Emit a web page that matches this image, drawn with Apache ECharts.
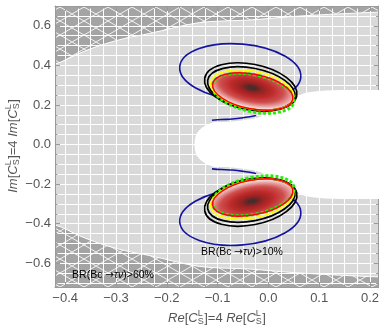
<!DOCTYPE html>
<html>
<head>
<meta charset="utf-8">
<script src="https://cdn.jsdelivr.net/npm/echarts@6/dist/echarts.min.js"></script>
<style>
html,body{margin:0;padding:0;background:#fff}
#main{width:382px;height:327px}
</style>
</head>
<body>
<div id="main"></div>
<script>
// axis ranges
var xRange = [-0.42, 0.217];
var yRange = [-0.72, 0.70];

// BR(Bc->tau nu) > 60% region, boundary
var hatchUpper = [[-0.42,0.407],[-0.371,0.462],[-0.332,0.500],[-0.283,0.536],[-0.234,0.561],[-0.136,0.616],[-0.038,0.629],[0.060,0.649],[0.217,0.669]];
var hatchLower = [[-0.42,-0.407],[-0.371,-0.462],[-0.332,-0.500],[-0.283,-0.536],[-0.234,-0.561],[-0.136,-0.616],[-0.038,-0.629],[0.060,-0.649],[0.217,-0.669]];

// excluded (white) region, upper and lower edge
var whiteUpper = [[-0.1455,0],[-0.1416,0.0531],[-0.1298,0.0859],[-0.1102,0.1112],[-0.0925,0.1137],[-0.0710,0.1162],[-0.0475,0.1238],[-0.0239,0.1339],[0.0016,0.1592],[0.0408,0.2097],[0.0663,0.2552],[0.0996,0.2703],[0.1584,0.2754],[0.217,0.2754]];
var whiteLower = [[-0.1455,0],[-0.1416,-0.0531],[-0.1298,-0.0859],[-0.1102,-0.1112],[-0.0925,-0.1137],[-0.0710,-0.1162],[-0.0475,-0.1238],[-0.0239,-0.1339],[0.0016,-0.1592],[0.0408,-0.2097],[0.0663,-0.2552],[0.0996,-0.2703],[0.1584,-0.2754],[0.217,-0.2754]];

// contours as ellipses: [centre x, centre y, half width (x units), half height (y units), tilt deg]
var blueRings   = [[-0.0553, 0.3663, 0.1196, 0.1415, 5], [-0.0553, -0.3663, 0.1196, 0.1415, -5]];
var blueArcUp   = [[-0.1110,0.1230],[-0.0925,0.1263],[-0.0710,0.1289],[-0.0475,0.1364],[-0.0239,0.1465]];
var blueArcDown = [[-0.1110,-0.1230],[-0.0925,-0.1263],[-0.0710,-0.1289],[-0.0475,-0.1364],[-0.0239,-0.1465]];
var blackOuter  = [[-0.0347, 0.2906, 0.0922, 0.1157, 11], [-0.0347, -0.2906, 0.0922, 0.1157, -11]];
var blackInner  = [[-0.0337, 0.2830, 0.0873, 0.1031, 11], [-0.0337, -0.2830, 0.0873, 0.1031, -11]];
var yellowRings = [[-0.0318, 0.2754, 0.0833, 0.0955, 11], [-0.0318, -0.2754, 0.0833, 0.0955, -11]];
var greenRings  = [[-0.0298, 0.2590, 0.0820, 0.0930, 12], [-0.0298, -0.2590, 0.0820, 0.0930, -12]];
var redRings    = [[-0.0308, 0.2678, 0.0804, 0.0874, 11], [-0.0308, -0.2678, 0.0804, 0.0874, -11]];

var fontFam = '"Liberation Sans", Arial, sans-serif';
var labelColor = '#555';
var frameColor = '#9a9a9a';

function hatchPattern() {
  var w = 24, h = 14;
  var c = document.createElement('canvas');
  c.width = w; c.height = h;
  var g = c.getContext('2d');
  g.fillStyle = '#a4a4a4';
  g.fillRect(0, 0, w, h);
  g.strokeStyle = 'rgba(255,255,255,0.85)';
  g.lineWidth = 1;
  g.beginPath();
  g.moveTo(0, h); g.lineTo(w, 0);
  g.moveTo(0, 0); g.lineTo(w, h);
  g.stroke();
  return c;
}

function closeTop(b) {
  var pts = [[xRange[0] - 0.05, b[0][1]]].concat(b);
  pts.push([xRange[1] + 0.05, b[b.length - 1][1]]);
  pts.push([xRange[1] + 0.05, yRange[1] + 0.1]);
  pts.push([xRange[0] - 0.05, yRange[1] + 0.1]);
  return pts;
}
function closeBottom(b) {
  var pts = [[xRange[0] - 0.05, b[0][1]]].concat(b);
  pts.push([xRange[1] + 0.05, b[b.length - 1][1]]);
  pts.push([xRange[1] + 0.05, yRange[0] - 0.1]);
  pts.push([xRange[0] - 0.05, yRange[0] - 0.1]);
  return pts;
}
function whitePoly() {
  var last = whiteUpper[whiteUpper.length - 1];
  var pts = whiteUpper.slice();
  pts.push([xRange[1] + 0.05, last[1]]);
  pts.push([xRange[1] + 0.05, whiteLower[whiteLower.length - 1][1]]);
  for (var i = whiteLower.length - 1; i > 0; i--) pts.push(whiteLower[i]);
  return pts;
}

function shapeSeries(z, build) {
  return {
    type: 'custom', z: z, silent: true, clip: true,
    data: [[0, 0]],
    renderItem: function (params, api) {
      return { type: 'group', children: build(api) };
    }
  };
}
function polys(list, smooth, style) {
  return function (api) {
    return list.map(function (pts) {
      return { type: 'polygon', shape: { points: pts.map(function (p) { return api.coord(p); }), smooth: smooth }, style: Object.assign({}, style) };
    });
  };
}
function lines(list, style) {
  return function (api) {
    return list.map(function (pts) {
      return { type: 'polyline', shape: { points: pts.map(function (p) { return api.coord(p); }), smooth: 0.4 }, style: Object.assign({ fill: null }, style) };
    });
  };
}
function rings(list, style) {
  return function (api) {
    return list.map(function (e) {
      var c = api.coord([e[0], e[1]]);
      var s = api.size([e[2], e[3]]);
      return {
        type: 'ellipse', x: c[0], y: c[1], rotation: -e[4] * Math.PI / 180,
        shape: { cx: 0, cy: 0, rx: s[0], ry: s[1] },
        style: Object.assign({ fill: null }, style)
      };
    });
  };
}
function lobeFill(api) {
  return redRings.map(function (e) {
    var c = api.coord([e[0], e[1]]);
    var s = api.size([e[2], e[3]]);
    var up = e[1] > 0;
    return {
      type: 'circle', x: c[0], y: c[1], rotation: -e[4] * Math.PI / 180, scaleX: s[0] / s[1],
      shape: { cx: 0, cy: 0, r: s[1] },
      style: {
        fill: {
          type: 'radial', x: 0.48, y: up ? 0.40 : 0.60, r: 0.58,
          colorStops: [
            { offset: 0, color: '#343434' },
            { offset: 0.08, color: '#4e2a2a' },
            { offset: 0.22, color: '#942222' },
            { offset: 0.45, color: '#be2a2a' },
            { offset: 0.68, color: '#cf4f4f' },
            { offset: 0.86, color: '#e8a3a3' },
            { offset: 1, color: '#faeaea' }
          ]
        }
      }
    };
  });
}

var ctx2d = document.createElement('canvas').getContext('2d');
function textWidth(t, font) { ctx2d.font = font; return ctx2d.measureText(t).width; }
function txt(t, x, y, font) {
  return { type: 'text', x: x, y: y, z: 100,
    style: { text: t, font: font, fill: labelColor, textAlign: 'left', textVerticalAlign: 'middle', align: 'left', verticalAlign: 'middle' } };
}
function mathLabel(parts, size) {
  var kids = [], x = 0;
  parts.forEach(function (p) {
    var f;
    if (p.sub !== undefined) {
      f = Math.round(size * 0.68) + 'px ' + fontFam;
      kids.push(txt(p.sup, x, -size * 0.33, f));
      kids.push(txt(p.sub, x, size * 0.3, f));
      x += Math.max(textWidth(p.sup, f), textWidth(p.sub, f)) + 0.5;
    } else {
      f = (p.it ? 'italic ' : '') + size + 'px ' + fontFam;
      kids.push(txt(p.t, x, 0, f));
      x += textWidth(p.t, f);
    }
  });
  kids.forEach(function (k) { k.x -= x / 2; });
  return kids;
}
function axisTitle(word) {
  return [{ t: word, it: 1 }, { t: '[' }, { t: 'C', it: 1 }, { sub: 'S', sup: 'L' }, { t: ']=4 ' },
          { t: word, it: 1 }, { t: '[' }, { t: 'C', it: 1 }, { sub: 'S', sup: 'L' }, { t: ']' }];
}
function brNote(text, x, y) {
  return { type: 'text', x: x, y: y, z: 100,
    style: { text: text, fontSize: 10.5, fontFamily: fontFam, fill: '#000',
      textAlign: 'center', textVerticalAlign: 'middle', align: 'center', verticalAlign: 'middle',
      rich: {
        a: { fontSize: 10.5, fontFamily: '"DejaVu Sans", sans-serif', fill: '#000' },
        i: { fontStyle: 'italic', fontSize: 10.5, fontFamily: fontFam, fill: '#000' }
      } } };
}

function tickFmt(step) {
  return function (v) {
    var r = Math.round(v / step);
    if (Math.abs(v / step - r) > 1e-6) return '';
    var s = Math.abs(v).toFixed(1);
    return v < -1e-9 ? '\u2212' + s : s;
  };
}
function axis(dim, pos, main) {
  var step = dim === 'x' ? 0.1 : 0.2;
  var range = dim === 'x' ? xRange : yRange;
  return {
    type: 'value', min: range[0], max: range[1], position: pos, z: 3,
    splitNumber: dim === 'x' ? 6 : 7,
    axisLine: { show: true, onZero: false, lineStyle: { color: frameColor, width: 1 } },
    axisTick: { show: true, inside: true, length: 5, lineStyle: { color: frameColor } },
    minorTick: { show: true, splitNumber: 4, length: 2.5, lineStyle: { color: frameColor } },
    axisLabel: { show: main, color: labelColor, fontSize: 13, fontFamily: fontFam, margin: dim === 'x' ? 5 : 4, formatter: tickFmt(step) },
    splitLine: { show: main, lineStyle: { color: '#ffffff', width: 1 } },
    minorSplitLine: { show: main, lineStyle: { color: '#ffffff', width: 1 } }
  };
}

var pattern = hatchPattern();
var chart = echarts.init(document.getElementById('main'));
chart.setOption({
  animation: false,
  grid: { left: 55, right: 2, top: 6, bottom: 40, show: true, backgroundColor: '#d9d9d9', borderWidth: 0 },
  xAxis: [axis('x', 'bottom', true), axis('x', 'top', false)],
  yAxis: [axis('y', 'left', true), axis('y', 'right', false)],
  series: [
    shapeSeries(2, polys([closeTop(hatchUpper), closeBottom(hatchLower)], 0.3,
      { fill: { image: pattern, repeat: 'repeat' }, stroke: '#ffffff', lineWidth: 1 })),
    shapeSeries(4, rings(blueRings, { stroke: '#1414a0', lineWidth: 1.6 })),
    shapeSeries(4, lines([blueArcUp, blueArcDown], { stroke: '#1414a0', lineWidth: 1.6 })),
    shapeSeries(5, polys([whitePoly()], 0.3, { fill: '#ffffff' })),
    shapeSeries(6, lobeFill),
    shapeSeries(7, rings(blackOuter, { stroke: '#000000', lineWidth: 1.7 })),
    shapeSeries(7, rings(blackInner, { stroke: '#000000', lineWidth: 1.7 })),
    shapeSeries(8, rings(greenRings, { stroke: '#22ee00', lineWidth: 3, lineDash: [3, 2] })),
    shapeSeries(9, rings(yellowRings, { stroke: '#ffff00', lineWidth: 1.5 })),
    shapeSeries(10, rings(redRings, { stroke: '#ff0000', lineWidth: 1.5 }))
  ],
  graphic: [
    { type: 'group', x: 217, y: 318, z: 100, children: mathLabel(axisTitle('Re'), 13) },
    { type: 'group', x: 13, y: 146, z: 100, rotation: Math.PI / 2, children: mathLabel(axisTitle('Im'), 13) },
    brNote('BR(Bc {a|\u2192}{i|\u03c4\u03bd})>10%', 242, 252),
    brNote('BR(Bc {a|\u2192}{i|\u03c4\u03bd})>60%', 113, 275)
  ]
});
</script>
</body>
</html>
